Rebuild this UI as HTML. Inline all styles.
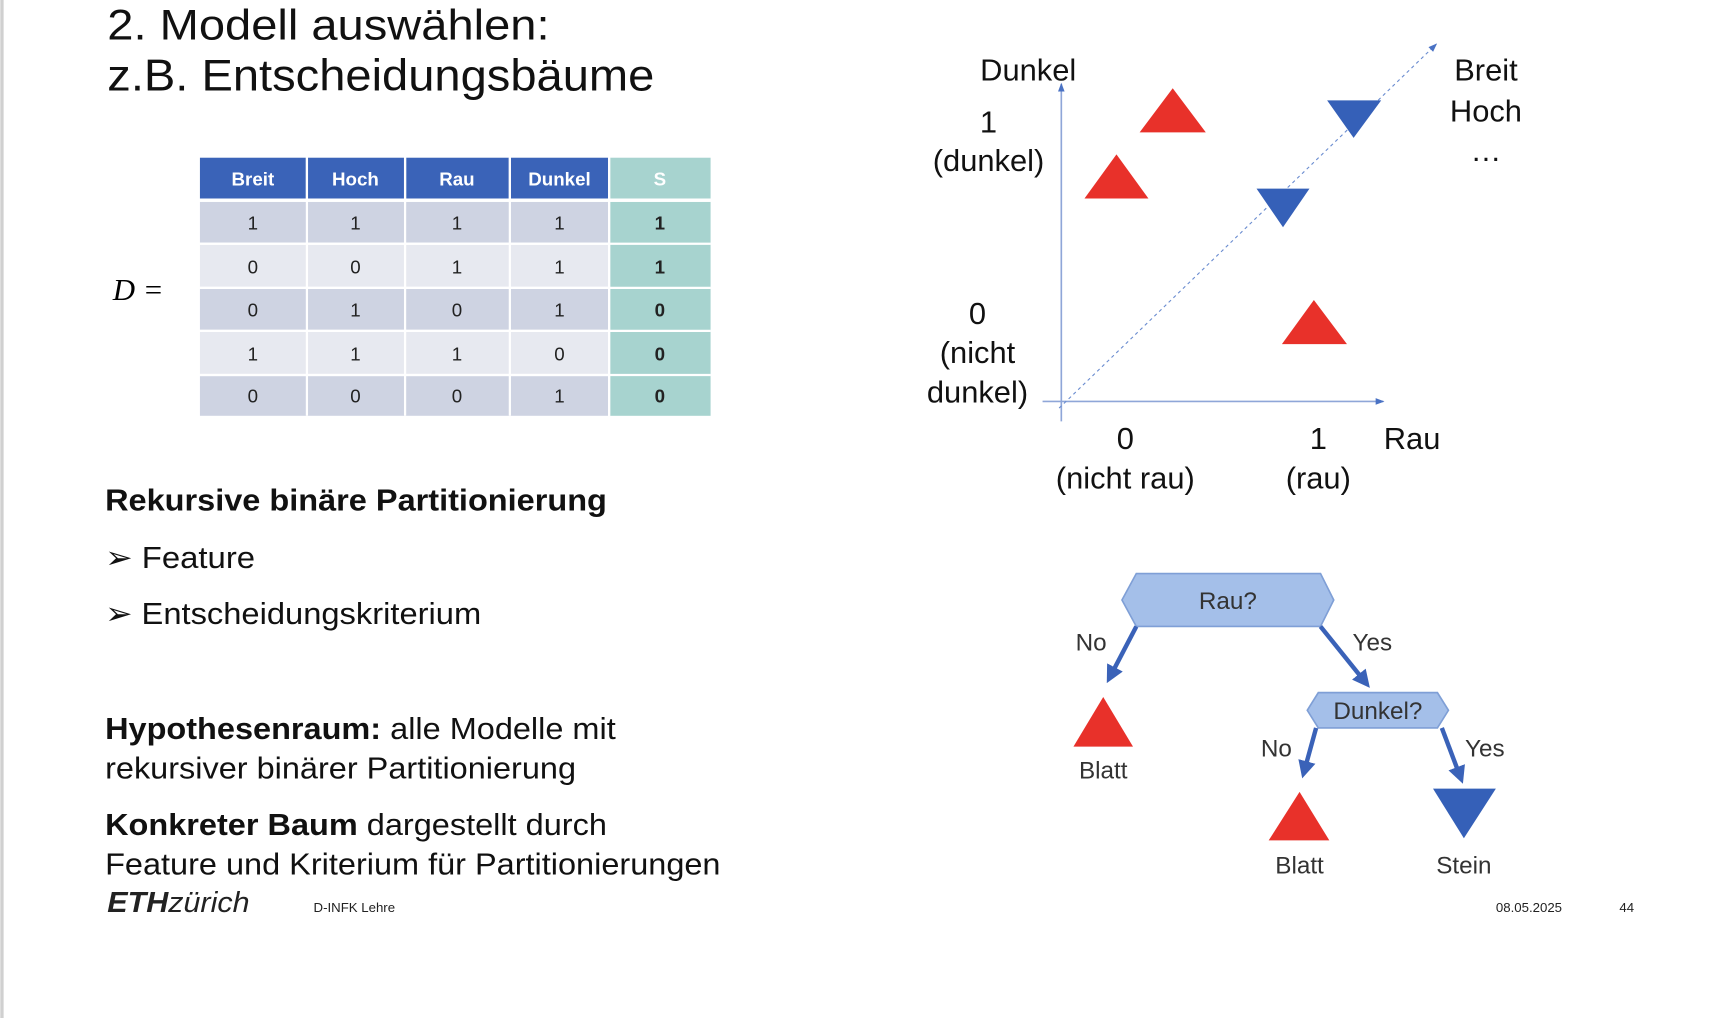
<!DOCTYPE html>
<html><head><meta charset="utf-8"><style>
html,body{margin:0;padding:0;background:#fff;}
svg{display:block;}
text{font-family:"Liberation Sans",sans-serif;}
</style></head><body>
<svg width="1730" height="1018" viewBox="0 0 1568 923" xmlns="http://www.w3.org/2000/svg">
<defs>
<marker id="ah" markerWidth="4" markerHeight="4" refX="2.5" refY="2" orient="auto" markerUnits="strokeWidth"><path d="M0,0 L4,2 L0,4 z" fill="#3a62b8"/></marker>
<marker id="sa" markerWidth="8" markerHeight="8" refX="7" refY="4" orient="auto" markerUnits="userSpaceOnUse"><path d="M0,1 L8,4 L0,7 z" fill="#4a72c4"/></marker>
</defs>
<rect x="0" y="0" width="3" height="923" fill="#d0d0d0"/>
<text x="97" y="36" font-size="39" fill="#111" textLength="401" lengthAdjust="spacingAndGlyphs">2. Modell auswählen:</text>
<text x="97" y="82" font-size="40" fill="#111" textLength="496" lengthAdjust="spacingAndGlyphs">z.B. Entscheidungsbäume</text>
<text x="102" y="272" font-size="28" font-style="italic" style="font-family:'Liberation Serif',serif">D =</text>
<g font-size="17" text-anchor="middle">
<rect x="181" y="143" width="96" height="37" fill="#3a63b8"/>
<rect x="279" y="143" width="87" height="37" fill="#3a63b8"/>
<rect x="368" y="143" width="93" height="37" fill="#3a63b8"/>
<rect x="463" y="143" width="88" height="37" fill="#3a63b8"/>
<rect x="553" y="143" width="91" height="37" fill="#a7d3cf"/>
<g fill="#fff" font-weight="bold"><text x="229" y="168">Breit</text><text x="322" y="168">Hoch</text><text x="414" y="168">Rau</text><text x="507" y="168">Dunkel</text><text x="598" y="168">S</text></g>
<rect x="181" y="183" width="370" height="37" fill="#ced3e2"/>
<rect x="181" y="222" width="370" height="38" fill="#e7e9f0"/>
<rect x="181" y="262" width="370" height="37" fill="#ced3e2"/>
<rect x="181" y="301" width="370" height="38" fill="#e7e9f0"/>
<rect x="181" y="341" width="370" height="36" fill="#ced3e2"/>
<rect x="553" y="183" width="91" height="194" fill="#a7d3cf"/>
<g stroke="#fff" stroke-width="2"><line x1="278" y1="143" x2="278" y2="377"/><line x1="367" y1="143" x2="367" y2="377"/><line x1="462" y1="143" x2="462" y2="377"/><line x1="552" y1="143" x2="552" y2="377"/>
<line x1="181" y1="181.5" x2="644" y2="181.5" stroke-width="3"/><line x1="181" y1="221" x2="644" y2="221"/><line x1="181" y1="261" x2="644" y2="261"/><line x1="181" y1="300" x2="644" y2="300"/><line x1="181" y1="340" x2="644" y2="340"/></g>
<g fill="#222">
<text x="229" y="208">1</text><text x="322" y="208">1</text><text x="414" y="208">1</text><text x="507" y="208">1</text><text x="598" y="208" font-weight="bold">1</text>
<text x="229" y="248">0</text><text x="322" y="248">0</text><text x="414" y="248">1</text><text x="507" y="248">1</text><text x="598" y="248" font-weight="bold">1</text>
<text x="229" y="287">0</text><text x="322" y="287">1</text><text x="414" y="287">0</text><text x="507" y="287">1</text><text x="598" y="287" font-weight="bold">0</text>
<text x="229" y="327">1</text><text x="322" y="327">1</text><text x="414" y="327">1</text><text x="507" y="327">0</text><text x="598" y="327" font-weight="bold">0</text>
<text x="229" y="365">0</text><text x="322" y="365">0</text><text x="414" y="365">0</text><text x="507" y="365">1</text><text x="598" y="365" font-weight="bold">0</text>
</g>
</g>
<g font-size="28" fill="#111" lengthAdjust="spacingAndGlyphs">
<text x="95" y="463" font-weight="bold" textLength="455" lengthAdjust="spacingAndGlyphs">Rekursive binäre Partitionierung</text>
<text x="95" y="515" textLength="136" lengthAdjust="spacingAndGlyphs">➢ Feature</text>
<text x="95" y="566" textLength="341" lengthAdjust="spacingAndGlyphs">➢ Entscheidungskriterium</text>
<text x="95" y="670" textLength="463" lengthAdjust="spacingAndGlyphs"><tspan font-weight="bold">Hypothesenraum:</tspan> alle Modelle mit</text>
<text x="95" y="706" textLength="427" lengthAdjust="spacingAndGlyphs">rekursiver binärer Partitionierung</text>
<text x="95" y="757" textLength="455" lengthAdjust="spacingAndGlyphs"><tspan font-weight="bold">Konkreter Baum</tspan> dargestellt durch</text>
<text x="95" y="793" textLength="558" lengthAdjust="spacingAndGlyphs">Feature und Kriterium für Partitionierungen</text>
</g>
<text x="97" y="827" font-size="26" font-weight="bold" font-style="italic" fill="#222" textLength="129" lengthAdjust="spacingAndGlyphs">ETH<tspan font-weight="normal">zürich</tspan></text>
<text x="284" y="827" font-size="12" fill="#222">D-INFK Lehre</text>
<text x="1356" y="827" font-size="12" fill="#222">08.05.2025</text>
<text x="1468" y="827" font-size="12" fill="#222">44</text>
<line x1="962" y1="382" x2="962" y2="76" stroke="#8fa6d8" stroke-width="1.5" marker-end="url(#sa)"/>
<line x1="945" y1="364" x2="1254" y2="364" stroke="#8fa6d8" stroke-width="1.5" marker-end="url(#sa)"/>
<line x1="960" y1="370" x2="1302" y2="40" stroke="#6a8cd0" stroke-width="1" stroke-dasharray="3,3" marker-end="url(#sa)"/>
<g font-size="28" fill="#111" text-anchor="middle">
<text x="932" y="73">Dunkel</text>
<text x="896" y="120">1</text><text x="896" y="155">(dunkel)</text>
<text x="886" y="294">0</text><text x="886" y="329">(nicht</text><text x="886" y="365">dunkel)</text>
<text x="1020" y="407">0</text><text x="1020" y="443">(nicht rau)</text>
<text x="1195" y="407">1</text><text x="1195" y="443">(rau)</text>
<text x="1280" y="407">Rau</text>
<text x="1347" y="73">Breit</text><text x="1347" y="110">Hoch</text><text x="1347" y="146">…</text>
</g>
<g fill="#e8312a">
<polygon points="1063,80 1093,120 1033,120"/>
<polygon points="1012,140 1041,180 983,180"/>
<polygon points="1191,272 1221,312 1162,312"/>
</g>
<g fill="#3560b8">
<polygon points="1203,91 1252,91 1227,125"/>
<polygon points="1139,171 1187,171 1163,206"/>
</g>
<polygon points="1030,520 1197,520 1209,544 1197,568 1030,568 1017,544" fill="#a4bfe9" stroke="#7f9fd6" stroke-width="1.5"/>
<polygon points="1195,628 1303,628 1313,644 1303,660 1195,660 1185,644" fill="#a4bfe9" stroke="#7f9fd6" stroke-width="1.5"/>
<g stroke="#3a62b8" stroke-width="4" fill="none">
<line x1="1030" y1="568" x2="1006" y2="614" marker-end="url(#ah)"/>
<line x1="1197" y1="568" x2="1238" y2="619" marker-end="url(#ah)"/>
<line x1="1193" y1="660" x2="1182" y2="700" marker-end="url(#ah)"/>
<line x1="1307" y1="660" x2="1324" y2="705" marker-end="url(#ah)"/>
</g>
<g font-size="22" fill="#333" text-anchor="middle">
<text x="1113" y="552">Rau?</text>
<text x="1249" y="652">Dunkel?</text>
<text x="989" y="590">No</text><text x="1244" y="590">Yes</text>
<text x="1157" y="686">No</text><text x="1346" y="686">Yes</text>
<text x="1000" y="706">Blatt</text><text x="1178" y="792">Blatt</text><text x="1327" y="792">Stein</text>
</g>
<polygon points="1000,632 1027,677 973,677" fill="#e8312a"/>
<polygon points="1178,718 1205,762 1150,762" fill="#e8312a"/>
<polygon points="1299,715 1356,715 1327,760" fill="#3560b8"/>
</svg>
</body></html>
